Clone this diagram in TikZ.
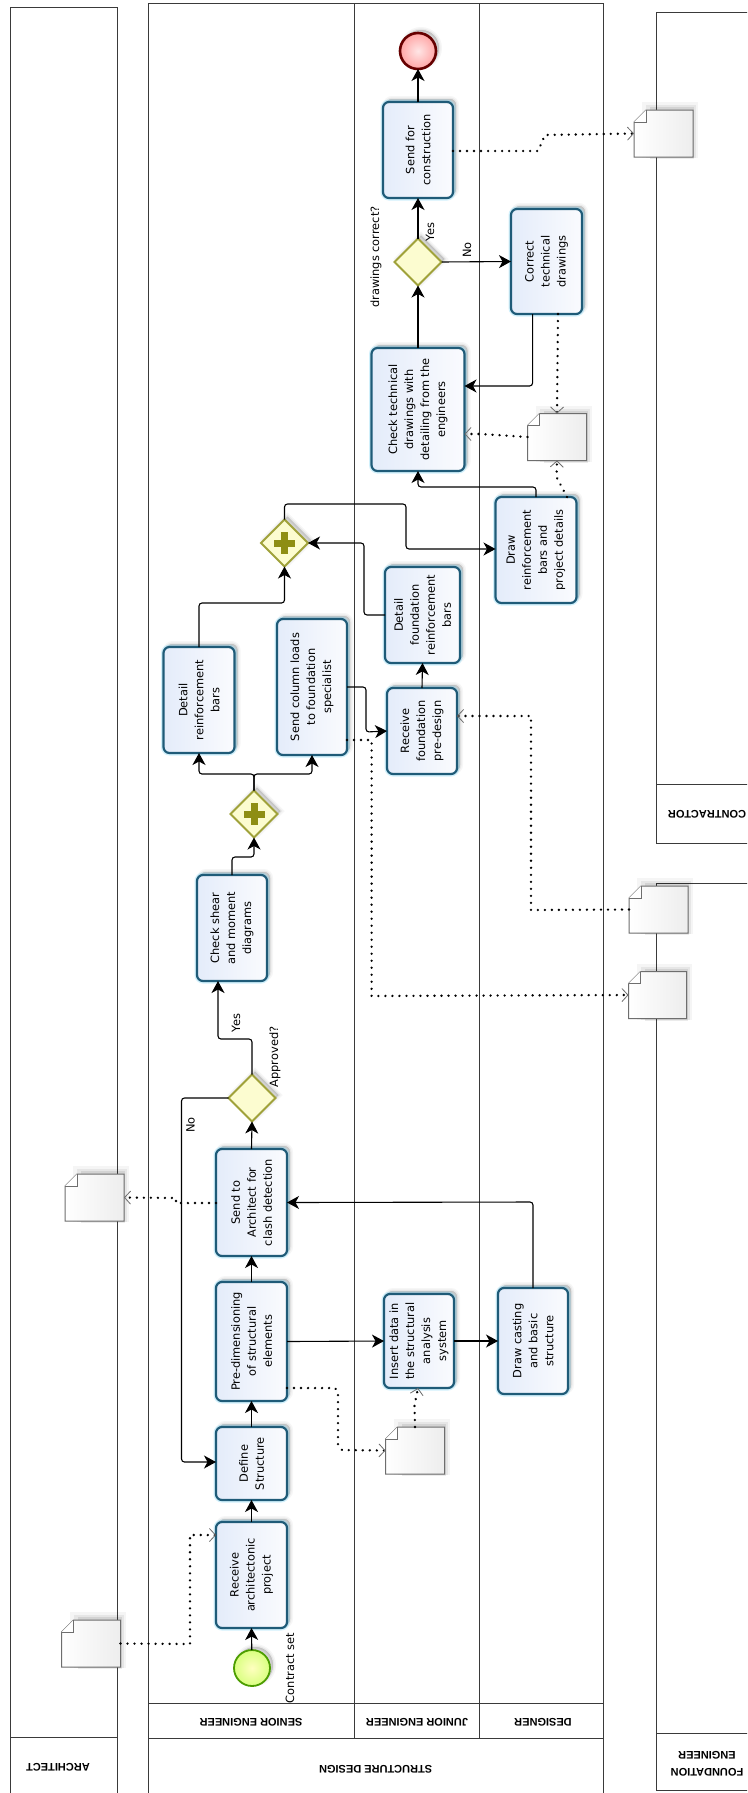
\documentclass[tikz,border=0pt]{standalone}
\usepackage{fontspec}
\setmainfont{DejaVu Sans}
\newfontfamily\hdrfont{Liberation Sans}
\usetikzlibrary{arrows.meta,shapes.geometric,calc}
\definecolor{poolline}{HTML}{3A3A3A}
\definecolor{taskedge}{HTML}{1F5B78}
\definecolor{taskfillA}{HTML}{E4ECFA}
\definecolor{taskfillB}{HTML}{FAFBFE}
\definecolor{gateedge}{HTML}{A0A23A}
\definecolor{gatefill}{HTML}{FCFCD0}
\definecolor{plusfill}{HTML}{8E8E14}
\definecolor{docedge}{HTML}{6E6E6E}
\tikzset{
  softshadow/.style={
    preaction={fill=black,draw=black,opacity=.035,line width=6pt,transform canvas={shift={(3pt,3pt)}}},
    preaction={fill=black,draw=black,opacity=.05,line width=3pt,transform canvas={shift={(3pt,3pt)}}},
    preaction={fill=black,draw=black,opacity=.06,line width=.5pt,transform canvas={shift={(3pt,3pt)}}}},
  task/.style 2 args={rotate=90,softshadow,
    preaction={draw=cyan!60,opacity=.3,line width=5pt},
    draw=taskedge,line width=2.2pt,rounded corners=6pt,
    left color=taskfillA,right color=taskfillB,
    minimum width=#1 pt,minimum height=#2 pt,inner sep=1pt,outer sep=0pt,align=center,
    font=\fontsize{11.4}{16}\selectfont},
  gateway/.style={diamond,aspect=1,softshadow,draw=gateedge,line width=1.8pt,fill=gatefill,
    minimum width=47pt,minimum height=47pt,inner sep=0pt,outer sep=0pt},
  startev/.style={circle,softshadow,draw=green!45!black!70!yellow,line width=1.8pt,
    inner color=yellow!25!white,outer color=green!30!yellow!50!white,
    minimum size=36pt,inner sep=0pt,outer sep=0pt},
  endev/.style={circle,softshadow,draw=red!40!black,line width=2.6pt,
    inner color=red!10!white,outer color=red!35!white,
    minimum size=36pt,inner sep=0pt,outer sep=0pt},
  docbox/.style={minimum width=#1,minimum height=47pt,inner sep=0pt,outer sep=0pt},
  docbox/.default=59pt,
  lbl/.style={rotate=90,inner sep=0pt,font=\fontsize{11.4}{13}\selectfont},
  hdr/.style={rotate=180,inner sep=0pt,align=center,font=\hdrfont\bfseries\fontsize{11}{17}\selectfont},
  pool/.style={draw=poolline,line width=1pt},
  flow/.style={draw=black,line width=1.1pt,rounded corners=3pt,
    -{Stealth[length=12pt,width=13pt,inset=3.5pt]}},
  plain flow/.style={draw=black,line width=1.1pt,rounded corners=3pt},
  msg/.style={draw=black,line width=2.6pt,line cap=round,dash pattern=on 0.01pt off 7pt,
    -{Straight Barb[length=6pt,width=13pt,line width=.8pt,color=docedge]}},
  plusbar/.style={fill=plusfill,draw=none}
}
\newcommand{\docshape}[1]{%
  \path[fill=black,opacity=.04]
    ([shift={(8pt,-1pt)}]#1.south west) rectangle ([shift={(5pt,8pt)}]#1.north east);
  \path[fill=black,opacity=.06]
    ([shift={(12pt,-1pt)}]#1.south west) rectangle ([shift={(3pt,5pt)}]#1.north east);
  \path[fill=black,opacity=.08]
    ([shift={(16pt,-2pt)}]#1.south west) rectangle ([shift={(1pt,3pt)}]#1.north east);
  \draw[draw=docedge,line width=1pt,left color=white,right color=black!7]
    ([yshift=-12pt]#1.north west) -- ([xshift=12pt]#1.north west) -- (#1.north east)
    -- (#1.south east) -- (#1.south west) -- cycle;
  \draw[draw=docedge,line width=1pt,fill=white]
    ([yshift=-12pt]#1.north west) -- ([xshift=12pt,yshift=-12pt]#1.north west)
    -- ([xshift=12pt]#1.north west);
}
\newcommand{\plusmark}[1]{%
  \path[plusbar] ([shift={(-10.5pt,-3.5pt)}]#1.center) rectangle ([shift={(10.5pt,3.5pt)}]#1.center);
  \path[plusbar] ([shift={(-3.5pt,-11pt)}]#1.center) rectangle ([shift={(3.5pt,11pt)}]#1.center);
}
\begin{document}
\begin{tikzpicture}[x=1pt,y=-1pt]
\useasboundingbox (0,0) rectangle (747,1793);
\clip (0,0) rectangle (747,1793);
\fill[white] (0,0) rectangle (747,1793);
% pools
\draw[pool] (10,1800) -- (10,8) -- (117,8) -- (117,1800);
\draw[pool] (10,1737) -- (117,1737);
\draw[pool] (148.6,1800) -- (148.6,4) -- (603.6,4) -- (603.6,1800);
\draw[pool] (148.6,1738) -- (603.6,1738);
\draw[pool] (148.6,1703) -- (603.6,1703);
\draw[pool] (354,4) -- (354,1738);
\draw[pool] (479,4) -- (479,1738);
\draw[pool] (760,13) -- (656,13) -- (656,843) -- (760,843);
\draw[pool] (656,784) -- (760,784);
\draw[pool] (760,883) -- (656,883) -- (656,1790) -- (760,1790);
\draw[pool] (656,1733) -- (760,1733);
% headers
\node[hdr] (hArch) at (58,1767) {ARCHITECT};
\node[hdr] (hStruct) at (375.6,1769) {STRUCTURE DESIGN};
\node[hdr] (hSenior) at (251,1722) {SENIOR ENGINEER};
\node[hdr] (hJunior) at (417,1722) {JUNIOR ENGINEER};
\node[hdr] (hDesigner) at (543,1722) {DESIGNER};
\node[hdr] (hContr) at (707,814) {CONTRACTOR};
\node[hdr] (hFound) at (707,1763.5) {FOUNDATION\\ENGINEER};
% events
\node[startev] (start) at (252,1668) {};
\node[endev] (end) at (418,51) {};
% tasks
\node[task={106}{71}] (recv) at (251.5,1575) {Receive\\architectonic\\project};
\node[task={73}{71}] (def) at (251.5,1463.5) {Define\\Structure};
\node[task={119}{71}] (pre) at (251.5,1341.5) {Pre-dimensioning\\of structural\\elements};
\node[task={107}{71}] (sendarch) at (251.5,1202.5) {Send to\\Architect for\\clash detection};
\node[task={94}{70}] (insert) at (419,1341) {Insert data in\\the structural\\analysis\\system};
\node[task={106}{70}] (cast) at (533,1341) {Draw casting\\and basic\\structure};
\node[task={106}{70}] (check) at (232,928) {Check shear\\and moment\\diagrams};
\node[task={106}{71}] (detail) at (199,700) {Detail\\reinforcement\\bars};
\node[task={136}{70}] (loads) at (312,687) {Send column loads\\to foundation\\specialist};
\node[task={86}{70}] (rfp) at (422,731) {Receive\\foundation\\pre-design};
\node[task={96}{75}] (dfr) at (422.5,615) {Detail\\foundation\\reinforcement\\bars};
\node[task={106}{81}] (drb) at (536,550) {Draw\\reinforcement\\bars and\\project details};
\node[task={123}{93}] (ctd) at (418,409.5) {Check technical\\drawings with\\detailing from the\\engineers};
\node[task={105}{71}] (corr) at (546.5,261.5) {Correct\\technical\\drawings};
\node[task={96}{70}] (sfc) at (418,150) {Send for\\construction};
% gateways
\node[gateway] (approved) at (252,1098) {};
\node[gateway] (gwa) at (254,814) {};
\node[gateway] (gwb) at (284.5,543) {};
\node[gateway] (correct) at (418,262) {};
\plusmark{gwa}
\plusmark{gwb}
% data objects
\node[docbox] (d1) at (91,1643.5) {};
\node[docbox] (d2) at (415,1450.5) {};
\node[docbox] (d3) at (94.5,1197.5) {};
\node[docbox] (d4) at (557,437) {};
\node[docbox] (d5) at (663.5,133.5) {};
\node[docbox] (d6) at (658.5,909.5) {};
\node[docbox=58pt] (d7) at (657.5,995) {};
\docshape{d1}\docshape{d2}\docshape{d3}\docshape{d4}\docshape{d5}\docshape{d6}\docshape{d7}
% labels
\node[lbl] (lContract) at (290,1668) {Contract set};
\node[lbl] (lApproved) at (275,1057) {Approved?};
\node[lbl] (lYes) at (236,1023) {Yes};
\node[lbl] (lNo) at (190.5,1125) {No};
\node[lbl] (lCorrect) at (376,257) {drawings correct?};
\node[lbl] (lYes2) at (430,232) {Yes};
\node[lbl] (lNo2) at (467,250) {No};
% sequence flows
\draw[flow] (start) -- (recv.west);
\draw[flow] (recv.east) -- (def.west);
\draw[flow] (def.east) -- (pre.west);
\draw[flow] (pre.east) -- (sendarch.west);
\draw[flow] (sendarch.east) -- (approved.south);
\draw[flow] (approved.west) -- (181.5,1098) -- (181.5,1462) -- (def.north |- 0,1462);
\draw[flow] (approved.north) -- (252,1039) -- (218,1039) -- (218,0 |- check.west);
\draw[flow] (232,0 |- check.east) -- (232,857) -- (254,857) -- (gwa.south);
\draw[flow] (gwa.north) -- (254,774) -- (199,774) -- (detail.west);
\draw[flow] (gwa.north) -- (254,774) -- (312,774) -- (loads.west);
\draw[flow] (detail.east) -- (199,603) -- (284.5,603) -- (gwb.south);
\draw[flow] (loads.south |- 0,687) -- (366,687) -- (366,732) -- (rfp.north);
\draw[flow] (rfp.east) -- (dfr.west);
\draw[flow] (dfr.north |- 0,615) -- (364,615) -- (364,543) -- (gwb.east);
\draw[flow] (gwb.north) -- (284.5,504) -- (406,504) -- (406,549) -- (drb.north |- 0,549);
\draw[flow] (drb.east) -- (536,487) -- (418,487) -- (ctd.west);
\draw[flow] (ctd.east) -- (correct.south);
\draw[flow] (correct.north) -- (sfc.west);
\draw[flow] (sfc.east) -- (end.south);
\draw[flow] (correct.east) -- (corr.north);
\draw[flow] (532.6,0 |- corr.west) -- (532.6,386) -- (ctd.south |- 0,386);
\draw[flow] (pre.south) -- (insert.north);
\draw[flow] (insert.south) -- (cast.north);
\draw[flow] (cast.east) -- (533,1202) -- (sendarch.south);
% message flows
\draw[msg] (d1.east) -- (190,1644) -- (190,1535) -- (recv.north |- 0,1535);
\draw[msg] (pre.south |- 0,1388) -- (335,1388) -- (338,1392) -- (338,1445) -- (342,1450) -- (d2.west);
\draw[msg] (d2.north) -- (414.5,1405) -- (418,1388);
\draw[msg] (sendarch.north |- 0,1203) -- (176,1203) -- (176,1198) -- (d3.east);
\draw[msg] (loads.south |- 0,740) -- (371.6,740) -- (371.6,996) -- (d7.west);
\draw[msg] (d6.west) -- (531,910) -- (531,716) -- (rfp.south |- 0,716);
\draw[msg] (558,0 |- corr.west) -- (d4.north);
\draw[msg] (d4.west) -- (481,434) -- (ctd.south |- 0,434);
\draw[msg] (567,0 |- drb.east) -- (556.5,477) -- (d4.south);
\draw[msg] (sfc.south |- 0,151) -- (538,151) -- (545,135) -- (d5.west);
\end{tikzpicture}
\end{document}
